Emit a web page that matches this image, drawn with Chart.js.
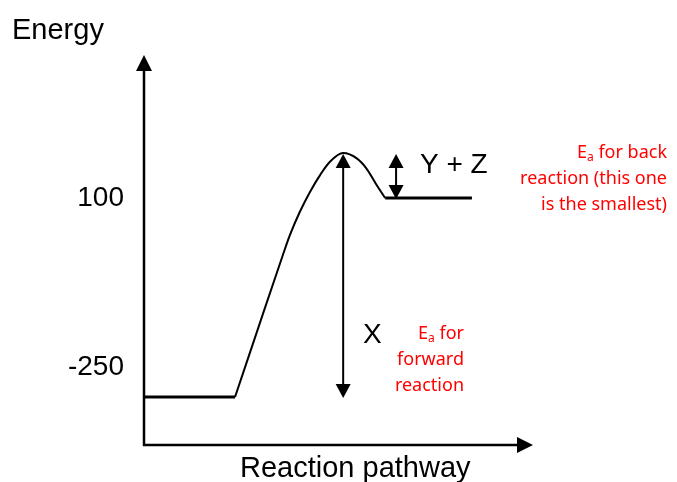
<!DOCTYPE html>
<html>
<head>
<meta charset="utf-8">
<title>Energy profile</title>
<script src="https://cdn.jsdelivr.net/npm/chart.js@4.4.1/dist/chart.umd.min.js"></script>
<style>
  html, body { margin: 0; padding: 0; background: #fff; }
</style>
</head>
<body>
<canvas id="chart" width="677" height="482"></canvas>
<script>
// pathway position runs 0..100 along the x axis, energy in the units of the y ticks
const humpPathway = [23.4, 29.2, 35.7, 37.5, 40.1, 42.7, 45.3, 47.8, 51.2, 54.7, 57.2, 59.8, 62];
const humpEnergy = [-312, -173, -18, 23, 72, 113, 148, 175, 193, 182, 161, 127, 100];

const levelNames = ["reactants", "products"];
const levelEnergy = [-312, 100];
const levelFrom = [0, 62];
const levelTo = [23.4, 84.3];

const energyTicks = [-250, 100];

// the two gaps marked with double arrows
const gapLabels = ["X", "Y + Z"];
const gapPathway = [51.2, 64.8];
const gapLow = [-312, 100];
const gapHigh = [193, 193];

const noteBack = ["Eₐ for back", "reaction (this one", "is the smallest)"];
const noteForward = ["Eₐ for", "forward", "reaction"];

Chart.defaults.font.family = "'Liberation Sans', Arial, sans-serif";

function arrowHead(ctx, tx, ty, dx, dy, len, wid) {
  const bx = tx - dx * len, by = ty - dy * len;
  ctx.beginPath();
  ctx.moveTo(tx, ty);
  ctx.lineTo(bx - dy * wid / 2, by + dx * wid / 2);
  ctx.lineTo(bx + dy * wid / 2, by - dx * wid / 2);
  ctx.closePath();
  ctx.fill();
}

function segment(ctx, x1, y1, x2, y2) {
  ctx.beginPath();
  ctx.moveTo(x1, y1);
  ctx.lineTo(x2, y2);
  ctx.stroke();
}

// draws a line right-aligned at x, turning "ₐ" into a small lowered "a"
function noteLine(ctx, text, right, base) {
  const big = "18px 'Noto Sans', sans-serif";
  const small = "12px 'Noto Sans', sans-serif";
  const parts = text.split("ₐ");
  const pieces = [];
  parts.forEach((p, i) => {
    if (i > 0) pieces.push({ t: "a", f: small, dy: 3 });
    if (p) pieces.push({ t: p, f: big, dy: 0 });
  });
  let total = 0;
  pieces.forEach(pc => { ctx.font = pc.f; pc.w = ctx.measureText(pc.t).width; total += pc.w; });
  let x = right - total;
  ctx.textAlign = "left";
  pieces.forEach(pc => {
    ctx.font = pc.f;
    ctx.fillText(pc.t, x, base + pc.dy);
    x += pc.w;
  });
}

const diagram = {
  id: "diagram",
  afterDatasetsDraw(chart) {
    const ctx = chart.ctx;
    const a = chart.chartArea;
    const xs = chart.scales.x, ys = chart.scales.y;
    ctx.save();
    ctx.strokeStyle = "#000";
    ctx.fillStyle = "#000";

    // axes with arrow heads
    ctx.lineWidth = 2.5;
    segment(ctx, a.left, a.bottom + 1, a.left, a.top + 14);
    arrowHead(ctx, a.left, a.top, 0, -1, 16, 16);
    segment(ctx, a.left - 1, a.bottom, a.right - 14, a.bottom);
    arrowHead(ctx, a.right, a.bottom, 1, 0, 16, 16);

    // double arrows for the energy gaps
    ctx.lineWidth = 2;
    gapLabels.forEach((lab, i) => {
      const px = xs.getPixelForValue(gapPathway[i]);
      const top = ys.getPixelForValue(gapHigh[i]) + 1;
      const bot = ys.getPixelForValue(gapLow[i]) + 1;
      segment(ctx, px, top + 10, px, bot - 10);
      arrowHead(ctx, px, top, 0, -1, 14, 15);
      arrowHead(ctx, px, bot, 0, 1, 14, 15);
    });

    ctx.textBaseline = "alphabetic";
    ctx.textAlign = "left";
    ctx.font = "28px 'Liberation Sans', Arial, sans-serif";
    ctx.fillText(gapLabels[0], 363, 343);
    ctx.fillText(gapLabels[1], 420, 173);

    ctx.font = "29px 'Liberation Sans', Arial, sans-serif";
    ctx.fillText("Energy", 12, 39);
    ctx.fillText("Reaction pathway", 240, 477);

    ctx.fillStyle = "#ff0000";
    noteBack.forEach((t, i) => noteLine(ctx, t, 667, 158 + i * 26));
    noteForward.forEach((t, i) => noteLine(ctx, t, 464, 339 + i * 26));
    ctx.restore();
  }
};

const datasets = [
  {
    label: "transition",
    data: humpPathway.map((p, i) => ({ x: p, y: humpEnergy[i] })),
    borderColor: "#000",
    borderWidth: 2,
    pointRadius: 0,
    cubicInterpolationMode: "monotone",
    fill: false
  }
].concat(levelNames.map((name, i) => ({
  label: name,
  data: [{ x: levelFrom[i], y: levelEnergy[i] }, { x: levelTo[i], y: levelEnergy[i] }],
  borderColor: "#000",
  borderWidth: 3,
  pointRadius: 0,
  fill: false
})));

new Chart(document.getElementById("chart").getContext("2d"), {
  type: "line",
  data: { datasets: datasets },
  options: {
    responsive: false,
    animation: false,
    layout: { padding: { left: 0, top: 55, right: 144, bottom: 37 } },
    plugins: { legend: { display: false }, tooltip: { enabled: false } },
    scales: {
      x: { type: "linear", min: 0, max: 100, display: false },
      y: {
        type: "linear",
        min: -411.5,
        max: 396.2,
        afterBuildTicks: s => { s.ticks = energyTicks.map(v => ({ value: v })); },
        afterFit: s => { s.width = 144; },
        grid: { display: false, drawTicks: false },
        border: { display: false },
        ticks: { color: "#000", font: { size: 28 }, padding: 20 }
      }
    }
  },
  plugins: [diagram]
});
</script>
</body>
</html>
